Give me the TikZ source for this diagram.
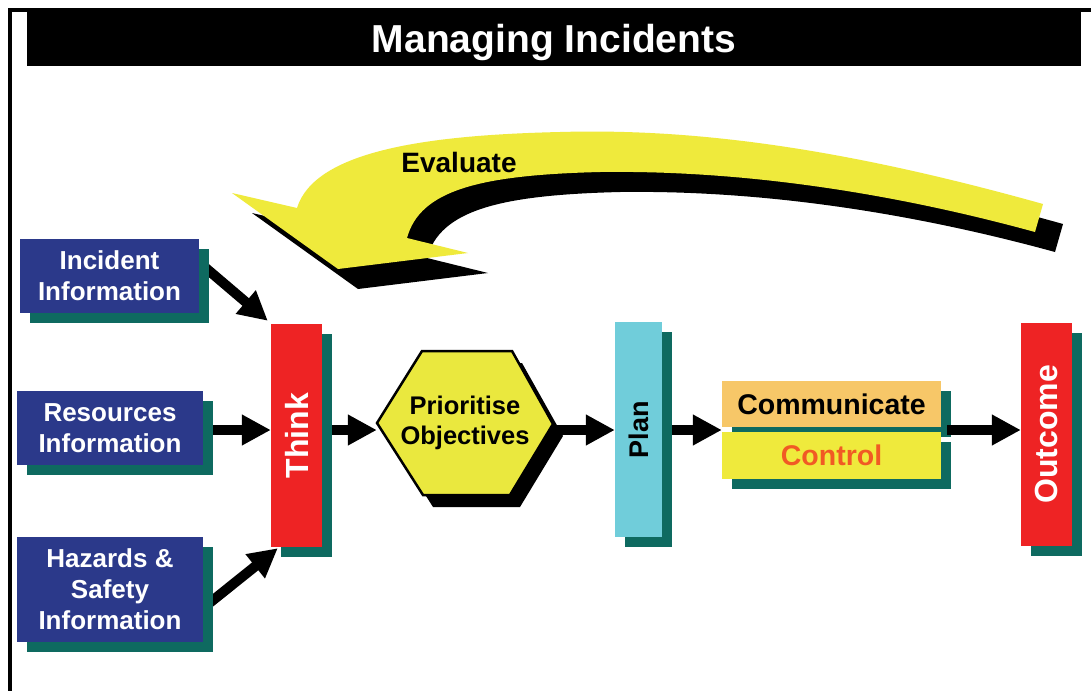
\documentclass[tikz,border=0pt]{standalone}
\usepackage{fontspec}
\setmainfont{Liberation Sans}
\usepackage{graphicx}
\usetikzlibrary{arrows.meta,shadows,backgrounds}
\definecolor{boxblue}{RGB}{43,57,138}
\definecolor{shteal}{RGB}{14,106,96}
\definecolor{boxred}{RGB}{238,35,36}
\definecolor{boxcyan}{RGB}{112,205,218}
\definecolor{boxorange}{RGB}{247,199,104}
\definecolor{evyellow}{RGB}{239,234,60}
\definecolor{hexyellow}{RGB}{234,232,62}
\definecolor{ctrltext}{RGB}{241,90,36}
\begin{document}
\begin{tikzpicture}[x=1pt,y=-1pt,
  tealshadow/.style={drop shadow={shadow xshift=10pt,shadow yshift=-10pt,fill=shteal,opacity=1}},
  infobox/.style={tealshadow,fill=boxblue,text=white,align=center,inner sep=0pt,
     font=\bfseries\fontsize{26}{31}\selectfont},
  vbar/.style={tealshadow,inner sep=0pt,font=\bfseries\fontsize{32}{36}\selectfont},
  hbar/.style={tealshadow,inner sep=0pt,minimum width=219pt,font=\bfseries\fontsize{28.5}{32}\selectfont},
  bigarrow/.style={line width=10pt,-{Triangle[length=29pt,width=29pt]}},
  blackshadow/.style 2 args={drop shadow={shadow xshift=#1,shadow yshift=#2,fill=black,opacity=1}}
]
\useasboundingbox (0,0) rectangle (1091,691);
% frame and title bar
\fill[black] (8,8) rectangle (12,691);
\fill[black] (8,8) rectangle (1091,12);
\fill[black] (27,12) rectangle (1081,66);
\node[font=\bfseries\fontsize{39}{44}\selectfont,text=white,anchor=base] (title) at (554,52) {Managing Incidents};

% Evaluate curved arrow
\fill[evyellow,blackshadow={20pt}{-20pt}]
  (1043,204) .. controls (850,150) and (700,128) .. (560,132)
  .. controls (430,135) and (315,150) .. (297,208)
  -- (232,193) -- (338,269) -- (468,253) -- (407,238)
  .. controls (420,190) and (480,175) .. (600,172)
  .. controls (750,170) and (900,195) .. (1035,232) -- cycle;
\node[font=\bfseries\fontsize{28}{32}\selectfont] (eval) at (459,162) {Evaluate};

% information boxes
\node[infobox,minimum width=179pt,minimum height=74pt] (inc) at (109.5,276) {Incident\\Information};
\node[infobox,minimum width=186pt,minimum height=74pt] (res) at (110,428) {Resources\\Information};
\node[infobox,minimum width=186pt,minimum height=105pt] (haz) at (110,589.5) {Hazards \&\\Safety\\Information};

% Think
\node[vbar,fill=boxred,text=white,minimum width=51pt,minimum height=223pt] (think) at (296.5,435.5) {\rotatebox{90}{Think}};

% hexagon
\filldraw[fill=hexyellow,draw=black,line width=2.5pt,blackshadow={10pt}{-12pt}]
  (377,423) -- (422,351) -- (512,351) -- (553,424) -- (510,495) -- (423,495) -- cycle;
\node[align=center,inner sep=0pt,minimum width=176pt,minimum height=144pt,
      font=\bfseries\fontsize{25.5}{30}\selectfont] (hex) at (465,423) {Prioritise\\Objectives};

% Plan
\node[vbar,fill=boxcyan,text=black,minimum width=47pt,minimum height=215pt,
      font=\bfseries\fontsize{27}{32}\selectfont] (plan) at (638.5,429.5) {\rotatebox{90}{Plan}};

% Communicate / Control
\node[hbar,fill=boxorange,text=black,minimum height=46pt] (comm) at (831.5,404) {Communicate};
\node[hbar,fill=evyellow,text=ctrltext,minimum height=47pt] (ctrl) at (831.5,455.5) {Control};

% Outcome
\node[vbar,fill=boxred,text=white,minimum width=51pt,minimum height=223pt] (outc) at (1046.5,434.5) {\rotatebox{90}{Outcome}};

\coordinate (row) at (0,430);

% connectors behind the boxes
\begin{scope}[on background layer]
  \fill[white] (0,0) rectangle (1091,691);
  \coordinate (incstart) at (194,258);
  \coordinate (hazstart) at (197,613);
  \draw[bigarrow] (incstart) -- ([shift={(-3pt,3pt)}]think.north west);
  \draw[bigarrow] (res.center |- row) -- (think.west |- row);
  \draw[bigarrow] (hazstart) -- ([shift={(7pt,-1pt)}]think.south west);
  \draw[bigarrow] (think.center |- row) -- (hex.west |- row);
  \draw[bigarrow] (hex.center |- row) -- (plan.west |- row);
  \draw[bigarrow] (plan.center |- row) -- (comm.west |- row);
\end{scope}
\draw[bigarrow] ([xshift=6pt]comm.east |- row) -- (outc.west |- row);
\end{tikzpicture}
\end{document}
